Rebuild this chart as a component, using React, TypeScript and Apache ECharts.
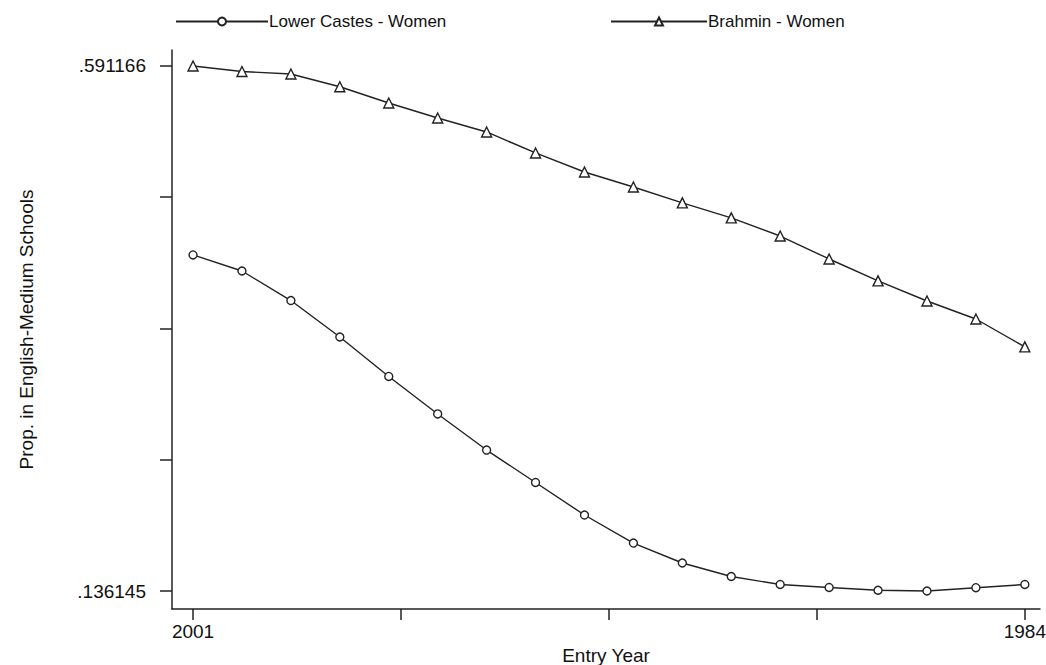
import React, { useEffect, useRef } from "react";
import * as echarts from "echarts";

const years = [2001, 2000, 1999, 1998, 1997, 1996, 1995, 1994, 1993, 1992, 1991, 1990, 1989, 1988, 1987, 1986, 1985, 1984];
const lowerCastesWomen = [0.4274, 0.4135, 0.3879, 0.3563, 0.3221, 0.2896, 0.2583, 0.2302, 0.2020, 0.1777, 0.1604, 0.1487, 0.1418, 0.1392, 0.1368, 0.136145, 0.1390, 0.1418];
const brahminWomen = [0.591166, 0.5864, 0.5842, 0.5732, 0.5591, 0.5461, 0.5340, 0.5158, 0.4993, 0.4863, 0.4725, 0.4595, 0.4438, 0.4239, 0.4049, 0.3875, 0.3719, 0.3477];
const yTicks = [0.136145, 0.24990025, 0.3636555, 0.47741075, 0.591166];
const yLabels = [0.136145, 0.591166];
const xTicks = [2001, 1996.75, 1992.5, 1988.25, 1984];
const xLabels = [2001, 1984];

const FONT = "Liberation Sans, Arial, sans-serif";

export default function App() {
  const ref = useRef<HTMLDivElement>(null);
  useEffect(() => {
    if (!ref.current) return;
    const chart = echarts.init(ref.current, undefined, { renderer: "svg" });
    const lineCol = "#222";
    chart.setOption({
      animation: false,
      backgroundColor: "#fff",
      textStyle: { fontFamily: FONT },
      legend: [
        {
          data: ["Lower Castes - Women"],
          left: 170,
          top: 8,
          itemWidth: 92,
          itemHeight: 10,
          itemGap: 0,
          textStyle: { fontSize: 17, color: "#111", fontFamily: FONT, padding: [0, 0, 0, -4] },
        },
        {
          data: ["Brahmin - Women"],
          left: 605,
          top: 8,
          itemWidth: 96,
          itemHeight: 10,
          itemGap: 0,
          textStyle: { fontSize: 17, color: "#111", fontFamily: FONT, padding: [0, 0, 0, -4] },
        },
      ],
      grid: {
        left: 172,
        right: 6,
        top: 50,
        bottom: 56,
        containLabel: false,
        outerBoundsMode: "none",
      },
      xAxis: {
        type: "value",
        inverse: true,
        min: 1983.69,
        max: 2001.43,
        name: "Entry Year",
        nameLocation: "middle",
        nameGap: 36,
        nameTextStyle: { fontSize: 19, color: "#111", fontFamily: FONT },
        splitLine: { show: false },
        axisLine: { show: true, onZero: false, lineStyle: { color: "#222", width: 1.5 } },
        axisTick: { show: true, length: 11, customValues: xTicks, lineStyle: { color: "#222", width: 1.5 } },
        axisLabel: {
          show: true,
          margin: 13,
          customValues: xLabels,
          fontSize: 19,
          color: "#111",
          fontFamily: FONT,
          hideOverlap: false,
          formatter: (v: number) => String(Math.round(v)),
        },
      },
      yAxis: {
        type: "value",
        min: 0.120545,
        max: 0.605033,
        name: "Prop. in English-Medium Schools",
        nameLocation: "middle",
        nameGap: 136,
        nameTextStyle: { fontSize: 19, color: "#111", fontFamily: FONT },
        splitLine: { show: false },
        axisLine: { show: true, onZero: false, lineStyle: { color: "#222", width: 1.5 } },
        axisTick: { show: true, length: 12, customValues: yTicks, lineStyle: { color: "#222", width: 1.5 } },
        axisLabel: {
          show: true,
          margin: 26,
          customValues: yLabels,
          fontSize: 19,
          color: "#111",
          fontFamily: FONT,
          formatter: (v: number) => String(v.toFixed(6)).replace(/^0/, ""),
        },
      },
      series: [
        {
          name: "Lower Castes - Women",
          type: "line",
          data: years.map((y, i) => [y, lowerCastesWomen[i]]),
          symbol: "circle",
          symbolSize: 8,
          showAllSymbol: true,
          lineStyle: { color: lineCol, width: 1.4 },
          itemStyle: { color: "#fff", borderColor: lineCol, borderWidth: 1.4 },
        },
        {
          name: "Brahmin - Women",
          type: "line",
          data: years.map((y, i) => [y, brahminWomen[i]]),
          symbol: "triangle",
          symbolSize: 10,
          showAllSymbol: true,
          lineStyle: { color: lineCol, width: 1.4 },
          itemStyle: { color: "#fff", borderColor: lineCol, borderWidth: 1.4 },
        },
      ],
    });
    return () => chart.dispose();
  }, []);
  return (
    <div
      ref={ref}
      style={{ position: "fixed", left: 0, top: 0, width: 1046, height: 665, background: "#fff" }}
    />
  );
}
